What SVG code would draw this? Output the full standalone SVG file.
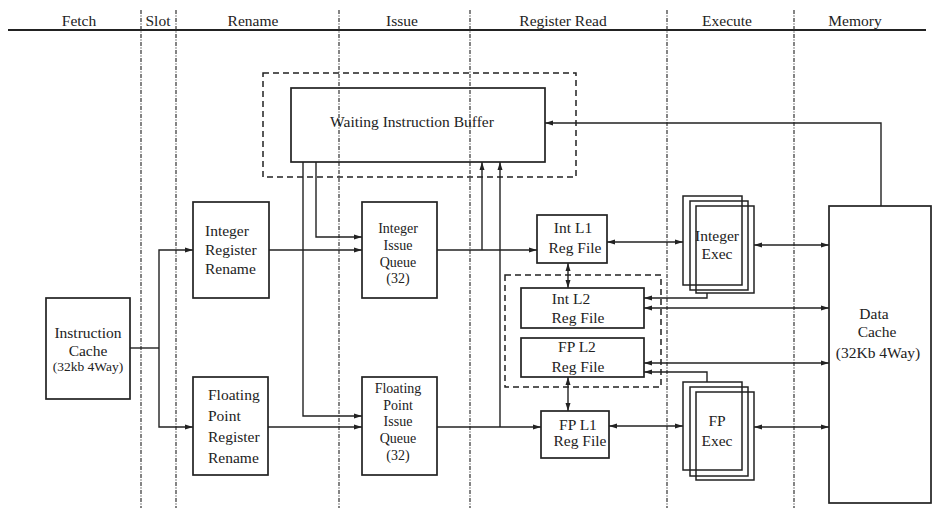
<svg xmlns="http://www.w3.org/2000/svg" width="932" height="508" viewBox="0 0 932 508">
<defs>
<marker id="ah" viewBox="0 0 8 6" refX="8" refY="3" markerWidth="8" markerHeight="6" markerUnits="userSpaceOnUse" orient="auto-start-reverse">
<path d="M0,0.5 L8,3 L0,5.5 z" fill="#222"/>
</marker>
<style>
text{font-family:"Liberation Serif","Times New Roman",serif;font-size:15.5px;fill:#222;}
.hd{font-size:15.5px;text-anchor:middle;}
.c{text-anchor:middle;}
.sm{font-size:13.5px;}
.q{font-size:14px;}
.box{fill:none;stroke:#222;stroke-width:1.7;}
.stk{fill:none;stroke:#222;stroke-width:1.5;}
.dash{fill:none;stroke:#222;stroke-width:1.5;stroke-dasharray:6,4;}
.phase{stroke:#333;stroke-width:1.2;stroke-dasharray:4,1.5,1,1.5;fill:none;}
.ln{fill:none;stroke:#222;stroke-width:1.4;}
.a1{marker-end:url(#ah);}
.a2{marker-start:url(#ah);marker-end:url(#ah);}
</style>
</defs>
<rect width="932" height="508" fill="#fff"/>

<g id="stages">
<line x1="8" y1="30" x2="926" y2="30" stroke="#222" stroke-width="2"/>
<line class="phase" x1="141" y1="10" x2="141" y2="508"/>
<line class="phase" x1="176" y1="10" x2="176" y2="508"/>
<line class="phase" x1="339" y1="10" x2="339" y2="508"/>
<line class="phase" x1="470" y1="10" x2="470" y2="508"/>
<line class="phase" x1="667" y1="10" x2="667" y2="508"/>
<line class="phase" x1="794" y1="10" x2="794" y2="508"/>
<text class="hd" x="79" y="26">Fetch</text>
<text class="hd" x="158" y="26">Slot</text>
<text class="hd" x="253" y="26">Rename</text>
<text class="hd" x="402" y="26">Issue</text>
<text class="hd" x="563" y="26">Register Read</text>
<text class="hd" x="727" y="26">Execute</text>
<text class="hd" x="855" y="26">Memory</text>
</g>

<g id="wib-group">
<rect class="dash" x="263" y="73" width="313" height="104"/>
</g>
<g id="l2-group">
<rect class="dash" x="505" y="275" width="156" height="112"/>
</g>

<g id="connectors">
<polyline class="ln" points="130,348 159,348"/>
<polyline class="ln a1" points="159,348 159,250 193,250"/>
<polyline class="ln a1" points="159,348 159,427 193,427"/>
<polyline class="ln a1" points="269,250 362,250"/>
<polyline class="ln a1" points="268,427 362,427"/>
<polyline class="ln a1" points="316,162 316,237 362,237"/>
<polyline class="ln a1" points="303,162 303,416 362,416"/>
<polyline class="ln a1" points="437,250 537,250"/>
<polyline class="ln a1" points="437,427 541,427"/>
<polyline class="ln a1" points="482,250 482,162"/>
<polyline class="ln a1" points="500,427 500,162"/>
<polyline class="ln a1" points="881,206 881,123 545,123"/>
<line class="ln a2" x1="568" y1="263" x2="568" y2="288"/>
<line class="ln a2" x1="568" y1="377" x2="568" y2="411"/>
<line class="ln a2" x1="607" y1="242" x2="683" y2="242"/>
<line class="ln a2" x1="754" y1="245" x2="829" y2="245"/>
<polyline class="ln a1" points="707,293 707,298 644,298"/>
<line class="ln a2" x1="644" y1="308" x2="829" y2="308"/>
<line class="ln a2" x1="644" y1="363" x2="829" y2="363"/>
<polyline class="ln a1" points="707,382 707,372 644,372"/>
<line class="ln a2" x1="609" y1="426" x2="683" y2="426"/>
<line class="ln a2" x1="754" y1="427" x2="829" y2="427"/>
</g>

<g id="instruction-cache">
<rect class="box" x="46" y="298" width="84" height="101"/>
<text class="c" x="88" y="338">Instruction</text>
<text class="c" x="88" y="356">Cache</text>
<text class="c sm" x="88" y="371">(32kb 4Way)</text>
</g>

<g id="int-rename">
<rect class="box" x="193" y="202" width="76" height="96"/>
<text x="205" y="236">Integer</text>
<text x="205" y="255">Register</text>
<text x="205" y="274">Rename</text>
</g>

<g id="fp-rename">
<rect class="box" x="193" y="377" width="75" height="98"/>
<text x="208" y="400">Floating</text>
<text x="208" y="421">Point</text>
<text x="208" y="442">Register</text>
<text x="208" y="463">Rename</text>
</g>

<g id="waiting-instruction-buffer">
<rect class="box" x="291" y="88" width="254" height="74"/>
<text class="c" x="412" y="127">Waiting Instruction Buffer</text>
</g>

<g id="int-issue-queue">
<rect class="box" x="362" y="202" width="75" height="96"/>
<text class="c q" x="398" y="233">Integer</text>
<text class="c q" x="398" y="250">Issue</text>
<text class="c q" x="398" y="266.5">Queue</text>
<text class="c q" x="398" y="283">(32)</text>
</g>

<g id="fp-issue-queue">
<rect class="box" x="362" y="377" width="75" height="98"/>
<text class="c q" x="398" y="393">Floating</text>
<text class="c q" x="398" y="409.5">Point</text>
<text class="c q" x="398" y="426">Issue</text>
<text class="c q" x="398" y="442.5">Queue</text>
<text class="c q" x="398" y="460">(32)</text>
</g>

<g id="int-l1">
<rect class="box" x="537" y="215" width="70" height="48"/>
<text class="c" x="573" y="233">Int L1</text>
<text class="c" x="575" y="253">Reg File</text>
</g>

<g id="int-l2">
<rect class="box" x="521" y="288" width="123" height="40"/>
<text class="c" x="571" y="304">Int L2</text>
<text class="c" x="578" y="323">Reg File</text>
</g>

<g id="fp-l2">
<rect class="box" x="521" y="338" width="123" height="39"/>
<text class="c" x="577" y="352">FP L2</text>
<text class="c" x="578" y="372">Reg File</text>
</g>

<g id="fp-l1">
<rect class="box" x="541" y="411" width="68" height="47"/>
<text class="c" x="578" y="430">FP L1</text>
<text class="c" x="580" y="446">Reg File</text>
</g>

<g id="int-exec">
<rect class="stk" x="683" y="196" width="59" height="89"/>
<rect class="stk" x="690" y="201" width="58" height="89"/>
<rect class="stk" x="696" y="206" width="58" height="87"/>
<text class="c" x="717" y="241">Integer</text>
<text class="c" x="717" y="259">Exec</text>
</g>

<g id="fp-exec">
<rect class="stk" x="683" y="382" width="59" height="88"/>
<rect class="stk" x="690" y="387" width="58" height="89"/>
<rect class="stk" x="696" y="392" width="58" height="88"/>
<text class="c" x="717" y="426">FP</text>
<text class="c" x="717" y="446">Exec</text>
</g>

<g id="data-cache">
<rect class="box" x="829" y="206" width="102" height="297"/>
<text class="c" x="874" y="319">Data</text>
<text class="c" x="877" y="337">Cache</text>
<text class="c" x="878" y="358">(32Kb 4Way)</text>
</g>
</svg>
